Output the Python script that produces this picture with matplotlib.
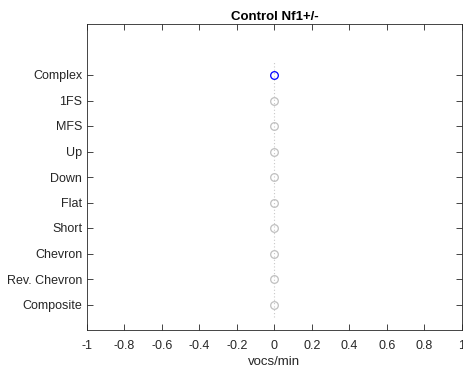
import matplotlib
matplotlib.use("Agg")
import matplotlib.pyplot as plt

plt.rcParams['font.family'] = ['Liberation Sans', 'DejaVu Sans']

categories = ["Complex", "1FS", "MFS", "Up", "Down", "Flat", "Short", "Chevron", "Rev. Chevron", "Composite"]
rates = [0, 0, 0, 0, 0, 0, 0, 0, 0, 0]
highlight = "Complex"
xticks = [-1, -0.8, -0.6, -0.4, -0.2, 0, 0.2, 0.4, 0.6, 0.8, 1]
xticklabels = ["-1", "-0.8", "-0.6", "-0.4", "-0.2", "0", "0.2", "0.4", "0.6", "0.8", "1"]

fig = plt.figure(figsize=(4.64, 3.69), dpi=100)
ax = fig.add_axes([87/464, 1 - 330/369, (462 - 87)/464, (330 - 24)/369])

n = len(categories)
ypos = [n - i for i in range(n)]
ax.plot([0, 0], [0.5, n + 0.5], linestyle=(0, (1, 2)), color='#c8c8c8', lw=0.8, zorder=1)
for cat, v, y in zip(categories, rates, ypos):
    col = '#0000ff' if cat == highlight else '#c0c0c0'
    ax.plot([v], [y], 'o', mfc='none', mec=col, ms=5.5, mew=0.9, zorder=3)

ax.set_xlim(-1, 1)
ax.set_ylim(0, n + 2)
ax.set_xticks(xticks)
ax.set_xticklabels(xticklabels)
ax.set_yticks(ypos)
ax.set_yticklabels(categories)
ax.tick_params(direction='in', top=True, right=True, length=4, width=0.6,
               labelsize=9, colors='#262626', labelcolor='#262626')
ax.tick_params(axis='x', pad=7)
for s in ax.spines.values():
    s.set_linewidth(0.6)
    s.set_color('#262626')
ax.set_xlabel("vocs/min", fontsize=9.5, color='#262626', labelpad=3)
ax.set_title("Control Nf1+/-", fontsize=9.5, fontweight='bold', pad=3)

fig.savefig("out.png", dpi=100)
